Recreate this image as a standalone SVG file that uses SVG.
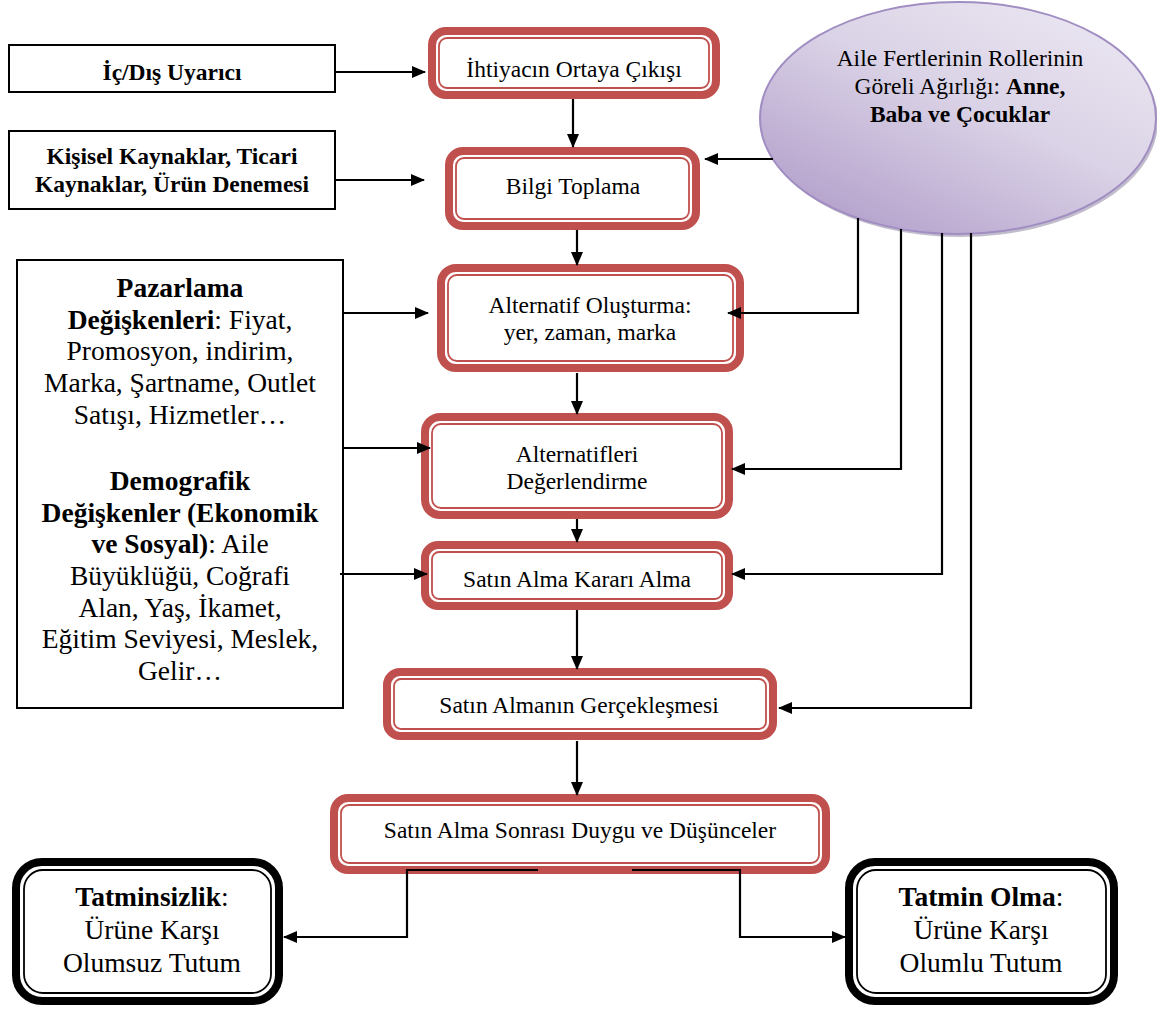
<svg xmlns="http://www.w3.org/2000/svg" width="1157" height="1012" viewBox="0 0 1157 1012">
<style>
text{font-family:"Liberation Serif","Times New Roman",serif;fill:#000;}
.t{font-size:23.5px;text-anchor:middle;}
.tl{font-size:27.5px;text-anchor:middle;}
.b{font-weight:bold;}
.ro{fill:#fff;stroke:#C0504D;stroke-width:8;}
.ri{fill:none;stroke:#C0504D;stroke-width:1.8;}
.ko{fill:#fff;stroke:#000;stroke-width:8;}
.ki{fill:none;stroke:#000;stroke-width:1.8;}
.sq{fill:#fff;stroke:#000;stroke-width:2;}
.c{fill:none;stroke:#000;stroke-width:2.2;}
</style>
<defs>
<marker id="ah" viewBox="0 0 14 12" refX="13" refY="6" markerWidth="14" markerHeight="12" markerUnits="userSpaceOnUse" orient="auto">
<path d="M0,0 L14,6 L0,12 Z" fill="#000"/>
</marker>
<linearGradient id="eg" x1="0.2" y1="0.9" x2="0.85" y2="0.1">
<stop offset="0" stop-color="#B7A5CE"/>
<stop offset="0.55" stop-color="#DAD2E6"/>
<stop offset="1" stop-color="#E9E4F0"/>
</linearGradient>
</defs>
<rect width="1157" height="1012" fill="#fff"/>

<g id="ellipse">
<ellipse cx="960" cy="121" rx="198" ry="116" fill="#8F86A3" opacity="0.55"/>
<ellipse cx="958" cy="118" rx="198" ry="116" fill="url(#eg)" stroke="#A08DC2" stroke-width="2"/>
<text class="t" x="960" y="66">Aile Fertlerinin Rollerinin</text>
<text class="t" x="960" y="94">Göreli Ağırlığı: <tspan class="b">Anne,</tspan></text>
<text class="t b" x="960" y="122">Baba ve Çocuklar</text>
</g>

<g id="ic-dis">
<rect class="sq" x="9" y="45" width="326" height="47"/>
<text class="t b" x="172" y="80">İç/Dış Uyarıcı</text>
</g>

<g id="kisisel">
<rect class="sq" x="9" y="131" width="326" height="78"/>
<text class="t b" x="172" y="164">Kişisel Kaynaklar, Ticari</text>
<text class="t b" x="172" y="192">Kaynaklar, Ürün Denemesi</text>
</g>

<g id="pazarlama">
<rect class="sq" x="17" y="260" width="326" height="448"/>
<text class="tl" x="180" y="297"><tspan class="b">Pazarlama</tspan></text>
<text class="tl" x="180" y="328.6"><tspan class="b">Değişkenleri</tspan>: Fiyat,</text>
<text class="tl" x="180" y="360.3">Promosyon, indirim,</text>
<text class="tl" x="180" y="392">Marka, Şartname, Outlet</text>
<text class="tl" x="180" y="423.6">Satışı, Hizmetler…</text>
<text class="tl" x="180" y="490"><tspan class="b">Demografik</tspan></text>
<text class="tl" x="180" y="521.7"><tspan class="b">Değişkenler (Ekonomik</tspan></text>
<text class="tl" x="180" y="553.3"><tspan class="b">ve Sosyal)</tspan>: Aile</text>
<text class="tl" x="180" y="585">Büyüklüğü, Coğrafi</text>
<text class="tl" x="180" y="616.7">Alan, Yaş, İkamet,</text>
<text class="tl" x="180" y="648.3">Eğitim Seviyesi, Meslek,</text>
<text class="tl" x="180" y="680">Gelir…</text>
</g>

<g id="box1">
<rect class="ro" x="432" y="31" width="284" height="64" rx="14"/>
<rect class="ri" x="439" y="38" width="270" height="50" rx="8"/>
<text class="t" x="574" y="77">İhtiyacın Ortaya Çıkışı</text>
</g>

<g id="box2">
<rect class="ro" x="449" y="151" width="247" height="75" rx="14"/>
<rect class="ri" x="456" y="158" width="233" height="61" rx="8"/>
<text class="t" x="573" y="194">Bilgi Toplama</text>
</g>

<g id="box3">
<rect class="ro" x="441" y="268" width="299" height="100" rx="15"/>
<rect class="ri" x="448" y="275" width="285" height="86" rx="9"/>
<text class="t" x="590" y="313">Alternatif Oluşturma:</text>
<text class="t" x="590" y="340">yer, zaman, marka</text>
</g>

<g id="box4">
<rect class="ro" x="425" y="417" width="304" height="98" rx="15"/>
<rect class="ri" x="432" y="424" width="290" height="84" rx="9"/>
<text class="t" x="577" y="462">Alternatifleri</text>
<text class="t" x="577" y="489">Değerlendirme</text>
</g>

<g id="box5">
<rect class="ro" x="425" y="545" width="304" height="61" rx="13"/>
<rect class="ri" x="432" y="552" width="290" height="47" rx="7"/>
<text class="t" x="577" y="587">Satın Alma Kararı Alma</text>
</g>

<g id="box6">
<rect class="ro" x="387" y="672" width="386" height="64" rx="13"/>
<rect class="ri" x="394" y="679" width="372" height="50" rx="7"/>
<text class="t" x="579" y="713">Satın Almanın Gerçekleşmesi</text>
</g>

<g id="box7">
<rect class="ro" x="334" y="798" width="492" height="72" rx="14"/>
<rect class="ri" x="341" y="805" width="478" height="58" rx="8"/>
<text class="t" x="580" y="838">Satın Alma Sonrası Duygu ve Düşünceler</text>
</g>

<g id="tatminsizlik">
<rect class="ko" x="16" y="862" width="263" height="139" rx="26"/>
<rect class="ki" x="24" y="870" width="247" height="123" rx="19"/>
<text class="tl" x="152" y="906"><tspan class="b">Tatminsizlik</tspan>:</text>
<text class="tl" x="152" y="939">Ürüne Karşı</text>
<text class="tl" x="152" y="972">Olumsuz Tutum</text>
</g>

<g id="tatmin">
<rect class="ko" x="849" y="862" width="265" height="139" rx="26"/>
<rect class="ki" x="857" y="870" width="249" height="123" rx="19"/>
<text class="tl" x="981" y="906"><tspan class="b">Tatmin Olma</tspan>:</text>
<text class="tl" x="981" y="939">Ürüne Karşı</text>
<text class="tl" x="981" y="972">Olumlu Tutum</text>
</g>

<g id="connectors">
<path class="c" d="M335,72 H425" marker-end="url(#ah)"/>
<path class="c" d="M335,180 H424" marker-end="url(#ah)"/>
<path class="c" d="M573,99 V147" marker-end="url(#ah)"/>
<path class="c" d="M577,230 V265" marker-end="url(#ah)"/>
<path class="c" d="M577,373 V414" marker-end="url(#ah)"/>
<path class="c" d="M577,519 V542" marker-end="url(#ah)"/>
<path class="c" d="M577,610 V669" marker-end="url(#ah)"/>
<path class="c" d="M577,741 V795" marker-end="url(#ah)"/>
<path class="c" d="M343,313 H428" marker-end="url(#ah)"/>
<path class="c" d="M343,448 H430" marker-end="url(#ah)"/>
<path class="c" d="M340,574 H427" marker-end="url(#ah)"/>
<path class="c" d="M773,159 H705" marker-end="url(#ah)"/>
<path class="c" d="M858,218 V313 H728" marker-end="url(#ah)"/>
<path class="c" d="M901,229 V469 H732" marker-end="url(#ah)"/>
<path class="c" d="M942,233 V574 H732" marker-end="url(#ah)"/>
<path class="c" d="M971,233 V708 H779" marker-end="url(#ah)"/>
<path class="c" d="M538,870 H407 V937 H284" marker-end="url(#ah)"/>
<path class="c" d="M632,870 H740 V937 H845" marker-end="url(#ah)"/>
</g>
</svg>
